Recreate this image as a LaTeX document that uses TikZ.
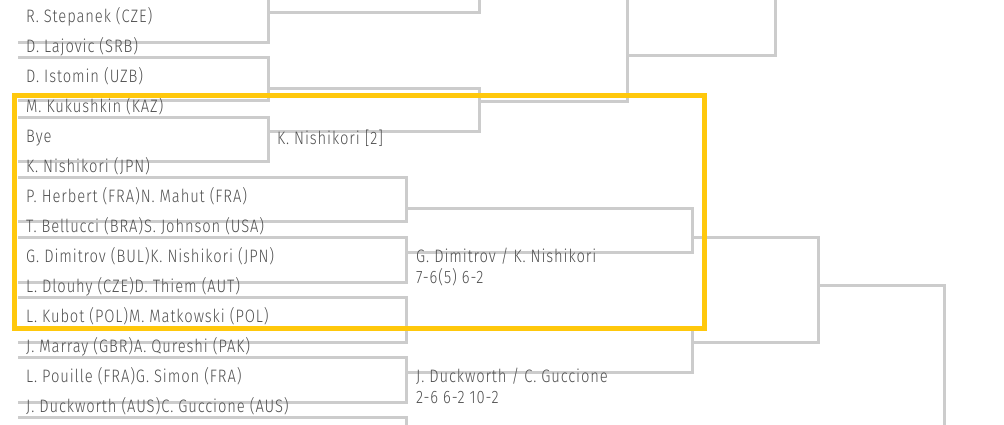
\documentclass[tikz,border=0pt]{standalone}
\usepackage{fontspec}
\setmainfont{Fira Sans}[UprightFont=* Light, FakeStretch=0.82, LetterSpace=5]
\definecolor{cinza}{RGB}{204,204,204}
\definecolor{texto}{RGB}{80,80,80}
\definecolor{amarelo}{RGB}{255,200,12}

\begin{document}
\begin{tikzpicture}[x=1pt,y=-1pt,
  linha/.style={draw=cinza,line width=3pt},
  nome/.style={anchor=base west,inner sep=0pt,text=texto,font=\fontsize{18}{20}\selectfont},
  destaque/.style={draw=amarelo,line width=4.5pt}]
  \useasboundingbox (0,0) rectangle (1004,424);
  \clip (0,0) rectangle (1004,424);
  % simples
  \draw[linha] (268,-5) -- (268,42) -- (18,42);
  \draw[linha] (18,57) -| (268,100) -- (18,100);
  \draw[linha] (18,117) -| (268,161) -- (18,161);
  \draw[linha] (268,12) -| (479,-5);
  \draw[linha] (268,88) -| (479,131) -- (268,131);
  \draw[linha] (479,101) -| (627,-5);
  \draw[linha] (627,55) -| (775,-5);
  % duplas
  \draw[linha] (18,177) -| (406,221) -- (18,221);
  \draw[linha] (18,237) -| (406,282) -- (18,282);
  \draw[linha] (18,297) -| (406,342) -- (18,342);
  \draw[linha] (18,357) -| (406,402) -- (18,402);
  \draw[linha] (18,417) -| (406,430);
  \draw[linha] (406,208) -| (692,252) -- (406,252);
  \draw[linha] (406,328) -| (692,372) -- (406,372);
  \draw[linha] (692,237) -| (818,342) -- (692,342);
  \draw[linha] (818,285) -| (944,430);

  \node[nome] (stepanek) at (26,22.5) {R. Stepanek (CZE)};
  \node[nome] (lajovic) at (26,52.5) {D. Lajovic (SRB)};
  \node[nome] (istomin) at (26,82.5) {D. Istomin (UZB)};
  \node[nome] (kukushkin) at (26,112.5) {M. Kukushkin (KAZ)};
  \node[nome] (bye) at (26,142.5) {Bye};
  \node[nome] (nishikori) at (26,172.5) {K. Nishikori (JPN)};
  \node[nome] (herbert) at (26,202.5) {P. Herbert (FRA)N. Mahut (FRA)};
  \node[nome] (bellucci) at (26,232.5) {T. Bellucci (BRA)S. Johnson (USA)};
  \node[nome] (dimitrov) at (26,262.5) {G. Dimitrov (BUL)K. Nishikori (JPN)};
  \node[nome] (dlouhy) at (26,292.5) {L. Dlouhy (CZE)D. Thiem (AUT)};
  \node[nome] (kubot) at (26,322.5) {L. Kubot (POL)M. Matkowski (POL)};
  \node[nome] (marray) at (26,352.5) {J. Marray (GBR)A. Qureshi (PAK)};
  \node[nome] (pouille) at (26,382.5) {L. Pouille (FRA)G. Simon (FRA)};
  \node[nome] (duckworth) at (26,412.5) {J. Duckworth (AUS)C. Guccione (AUS)};

  \node[nome] (venc) at (277,144.5) {K. Nishikori [2]};
  \node[nome] (dupla1) at (416,262.5) {G. Dimitrov / K. Nishikori};
  \node[nome] (placar1) at (416,283.5) {7-6(5) 6-2};
  \node[nome] (dupla2) at (416,382.5) {J. Duckworth / C. Guccione};
  \node[nome] (placar2) at (416,403.5) {2-6 6-2 10-2};

  \draw[destaque] (14.3,95.5) rectangle (704.3,328.3);
\end{tikzpicture}
\end{document}
